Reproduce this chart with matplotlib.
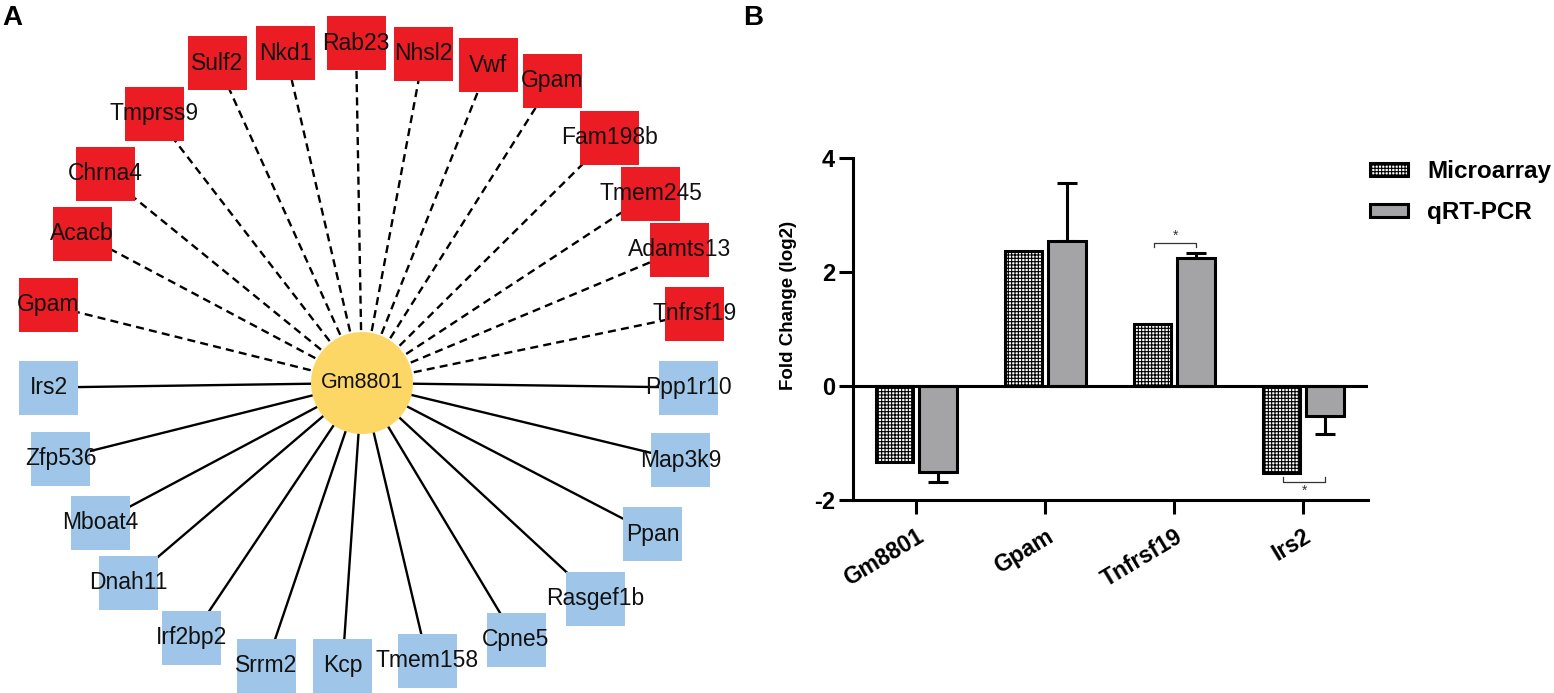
import matplotlib
matplotlib.use('Agg')
import matplotlib.pyplot as plt
from matplotlib.patches import Rectangle, Circle, Patch
import numpy as np

plt.rcParams['font.family'] = ['Liberation Sans', 'DejaVu Sans']
plt.rcParams['axes.unicode_minus'] = False
plt.rcParams['hatch.linewidth'] = 0.8

# ---- panel A: network (layout in pixel units) ----
hub_name = 'Gm8801'
hub_xy = (362, 383)

up_genes = ['Gpam', 'Acacb', 'Chrna4', 'Tmprss9', 'Sulf2', 'Nkd1', 'Rab23',
            'Nhsl2', 'Vwf', 'Gpam', 'Fam198b', 'Tmem245', 'Adamts13', 'Tnfrsf19']
up_x = [48.5, 82, 105, 154, 217.5, 285.5, 356, 423.5, 488.5, 552.5, 609.5, 650.5, 679.5, 694.5]
up_y = [305, 234, 174, 113.5, 63, 53, 43, 54, 65, 81, 137.5, 193.5, 250, 314]

down_genes = ['Ppp1r10', 'Map3k9', 'Ppan', 'Rasgef1b', 'Cpne5', 'Tmem158', 'Kcp',
              'Srrm2', 'Irf2bp2', 'Dnah11', 'Mboat4', 'Zfp536', 'Irs2']
down_x = [688.5, 680.5, 652.5, 595, 516, 427.5, 342.5, 266, 191.5, 128, 100, 60.5, 48.5]
down_y = [387.5, 460, 534, 598.5, 639.5, 660.5, 665.5, 666, 637.5, 582.5, 522.5, 458.5, 387.5]

# ---- panel B: qRT-PCR validation ----
genes = ['Gm8801', 'Gpam', 'Tnfrsf19', 'Irs2']
microarray = [-1.33, 2.37, 1.09, -1.53]
qpcr = [-1.51, 2.54, 2.25, -0.53]
qpcr_err = [0.17, 1.02, 0.08, 0.31]
sig_pairs = [(1.845, 2.17, 2.51, 2.63), (2.845, 3.17, -1.68, -1.83)]

red = '#ec1c24'
blue = '#9fc5e8'
gold = '#fdd766'

fig = plt.figure(figsize=(15.54, 6.93), dpi=100)

ax0 = fig.add_axes([0, 0, 1, 1])
ax0.set_xlim(0, 1554)
ax0.set_ylim(693, 0)
ax0.axis('off')

bw, bh = 59, 54
for xs, ys, names, col, ls in [(up_x, up_y, up_genes, red, (0, (3.4, 2.2))),
                                (down_x, down_y, down_genes, blue, '-')]:
    for x, y, name in zip(xs, ys, names):
        ax0.plot([hub_xy[0], x], [hub_xy[1], y], color='black', lw=1.7,
                 linestyle=ls, zorder=1)
        ax0.add_patch(Rectangle((x - bw / 2, y - bh / 2), bw, bh,
                                facecolor=col, edgecolor='none', zorder=2))
        ax0.text(x, y, name, ha='center', va='center', fontsize=16.5,
                 color='#111111', zorder=4)

ax0.add_patch(Circle(hub_xy, 51, facecolor=gold, edgecolor='none', zorder=3))
ax0.text(hub_xy[0], hub_xy[1], hub_name, ha='center', va='center',
         fontsize=15.5, color='#111111', zorder=4)

fig.text(2 / 1554, 1 - 25 / 693, 'A', fontsize=20, fontweight='bold')
fig.text(743 / 1554, 1 - 25 / 693, 'B', fontsize=20, fontweight='bold')

# bar chart
ax = fig.add_axes([853 / 1554, 1 - 500 / 693, 515 / 1554, 342 / 693])
pos = np.arange(len(genes))
w = 0.29
off = 0.168
ax.bar(pos - off, microarray, w, facecolor='white', edgecolor='black',
       hatch='+++++', linewidth=2.2, zorder=2)
lower = [e if v < 0 else 0 for v, e in zip(qpcr, qpcr_err)]
upper = [e if v >= 0 else 0 for v, e in zip(qpcr, qpcr_err)]
ax.bar(pos + off, qpcr, w, facecolor='#a4a4a7', edgecolor='black',
       linewidth=2.2, zorder=2)
ax.errorbar(pos + off, qpcr, yerr=[lower, upper], fmt='none', ecolor='black',
            elinewidth=2.2, capsize=7, capthick=2.2, zorder=1)
ax.axhline(0, color='black', lw=2.2, zorder=3)

for x0, x1, yb, ys in sig_pairs:
    t = 0.08 if yb > 0 else -0.08
    ax.plot([x0, x0, x1, x1], [yb - t, yb, yb, yb - t], color='#333333', lw=0.9)
    ax.text((x0 + x1) / 2, ys, '*', ha='center', va='center', fontsize=10,
            color='#333333')

ax.set_xlim(-0.49, 3.5)
ax.set_ylim(-2, 4)
ax.set_yticks([-2, 0, 2, 4])
ax.set_xticks(pos)
ax.set_xticklabels(genes, rotation=31, ha='right', rotation_mode='anchor',
                   fontsize=16.5, fontweight='bold')
for lab in ax.get_yticklabels():
    lab.set_fontweight('bold')
    lab.set_fontsize(17)
ax.tick_params(axis='both', width=2.2, length=10, pad=3)
ax.tick_params(axis='x', pad=8)
for s in ['top', 'right']:
    ax.spines[s].set_visible(False)
for s in ['left', 'bottom']:
    ax.spines[s].set_linewidth(2.2)
ax.set_ylabel('Fold Change (log2)', fontsize=13.5, fontweight='bold')
ax.yaxis.set_label_coords(-0.109, 0.57)

handles = [Patch(facecolor='white', edgecolor='black', hatch='+++++', linewidth=2.2),
           Patch(facecolor='#a4a4a7', edgecolor='black', linewidth=2.2)]
leg = fig.legend(handles, ['Microarray', 'qRT-PCR'], loc='upper left',
                 bbox_to_anchor=(1348 / 1554, 1 - 138 / 693), frameon=False,
                 prop={'weight': 'bold', 'size': 17.5}, handlelength=1.55,
                 handleheight=0.45, labelspacing=0.75, handletextpad=0.8)

fig.savefig('out.png', dpi=100)
